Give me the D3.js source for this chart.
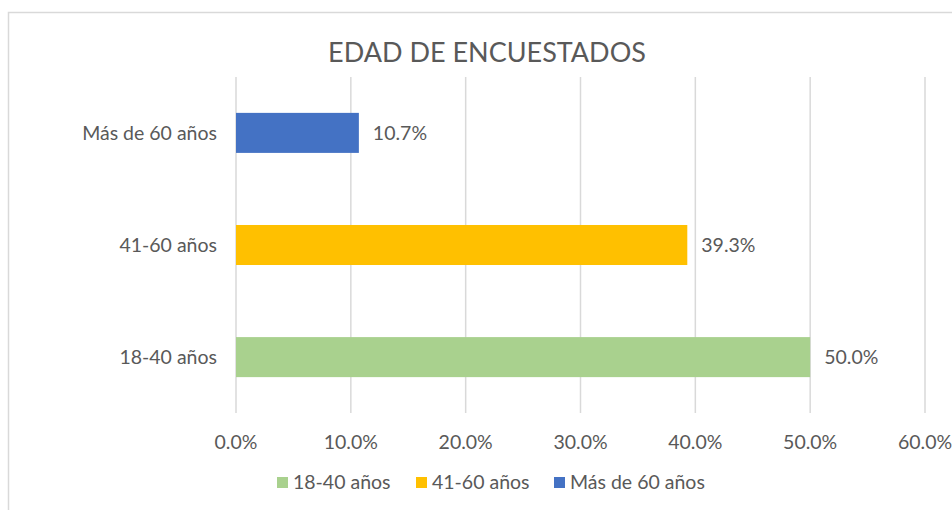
<!DOCTYPE html>
<html>
<head>
<meta charset="utf-8">
<script src="https://cdn.jsdelivr.net/npm/d3@7"></script>
<style>
  body { margin: 0; background: #fff; }
  text { font-family: Lato, "Open Sans", sans-serif; fill: #595959; }
</style>
</head>
<body>
<svg id="chart" width="952" height="510"></svg>
<script>
// age groups of the respondents, top to bottom as drawn
const categories = ["Más de 60 años", "41-60 años", "18-40 años"];
const values = [0.107, 0.393, 0.5];
const colors = ["#4472c4", "#ffc000", "#a9d18e"];
const ticks = [0, 0.1, 0.2, 0.3, 0.4, 0.5, 0.6];
const legendOrder = ["18-40 años", "41-60 años", "Más de 60 años"];

const svg = d3.select("#chart");
const margin = { top: 77, left: 236, right: 27, bottom: 97 };
const width = 952, height = 510;
const fs = "19.5px";

// chart frame (runs off the right and bottom edge)
svg.append("rect")
  .attr("x", 8.5).attr("y", 12.5)
  .attr("width", 960).attr("height", 520)
  .attr("fill", "none").attr("stroke", "#d9d9d9").attr("stroke-width", 1.5);

svg.append("text")
  .attr("x", 487).attr("y", 62)
  .attr("text-anchor", "middle")
  .style("font-size", "27px")
  .text("EDAD DE ENCUESTADOS");

const x = d3.scaleLinear().domain([0, 0.6]).range([margin.left, width - margin.right]);
const y = d3.scaleBand().domain(categories)
  .range([margin.top, height - margin.bottom])
  .paddingInner(0.643).paddingOuter(0.32);

// vertical gridlines
svg.append("g").selectAll("line")
  .data(ticks)
  .enter().append("line")
  .attr("x1", d => x(d)).attr("x2", d => x(d))
  .attr("y1", margin.top).attr("y2", height - margin.bottom)
  .attr("stroke", "#d9d9d9").attr("stroke-width", 1.5);

// tick labels
svg.append("g").selectAll("text")
  .data(ticks)
  .enter().append("text")
  .attr("x", d => x(d)).attr("y", 449)
  .attr("text-anchor", "middle")
  .style("font-size", fs)
  .text(d3.format(".1%"));

// category labels
svg.append("g").selectAll("text")
  .data(categories)
  .enter().append("text")
  .attr("x", 217).attr("y", d => y(d) + y.bandwidth() / 2)
  .attr("dy", "0.35em")
  .attr("text-anchor", "end")
  .style("font-size", fs)
  .text(d => d);

const bars = categories.map((c, i) => ({ cat: c, value: values[i], color: colors[i] }));

svg.append("g").selectAll("rect")
  .data(bars)
  .enter().append("rect")
  .attr("x", x(0))
  .attr("y", d => y(d.cat))
  .attr("width", d => x(d.value) - x(0))
  .attr("height", y.bandwidth())
  .attr("fill", d => d.color);

// data labels
svg.append("g").selectAll("text")
  .data(bars)
  .enter().append("text")
  .attr("x", d => x(d.value) + 14)
  .attr("y", d => y(d.cat) + y.bandwidth() / 2)
  .attr("dy", "0.35em")
  .style("font-size", fs)
  .text(d => d3.format(".1%")(d.value));

// legend
const legendX = [277, 416, 554];
const legend = svg.append("g").selectAll("g")
  .data(legendOrder)
  .enter().append("g")
  .attr("transform", (d, i) => "translate(" + legendX[i] + ",477)");
legend.append("rect")
  .attr("width", 11).attr("height", 11)
  .attr("fill", d => colors[categories.indexOf(d)]);
legend.append("text")
  .attr("x", 16).attr("y", 5.5).attr("dy", "0.35em")
  .style("font-size", fs)
  .text(d => d);
</script>
</body>
</html>
